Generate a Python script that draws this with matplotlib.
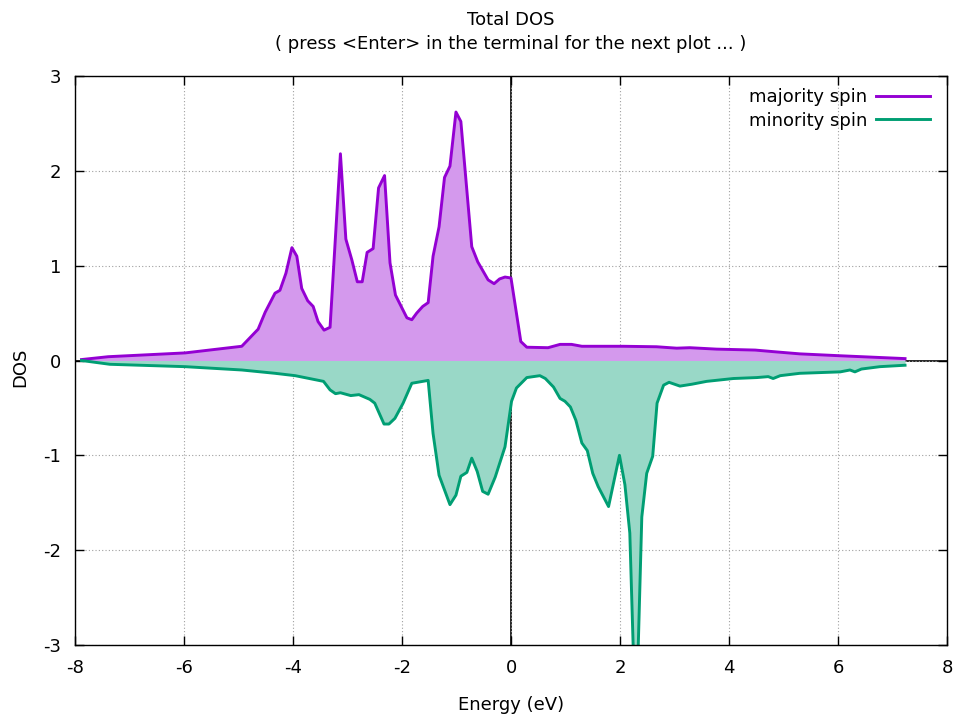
import matplotlib
matplotlib.use("Agg")
import matplotlib.pyplot as plt
import numpy as np

plt.rcParams["axes.unicode_minus"] = False
plt.rcParams["font.family"] = ["DejaVu Sans"]

energy_up = [-7.88, -7.39, -5.98, -4.94, -4.64, -4.51, -4.33, -4.24, -4.13, -4.02, -3.93, -3.84,
             -3.73, -3.63, -3.54, -3.43, -3.32, -3.13, -3.03, -2.92, -2.82, -2.73, -2.64, -2.53,
             -2.43, -2.32, -2.22, -2.12, -1.91, -1.82, -1.73, -1.62, -1.52, -1.43, -1.32, -1.22,
             -1.12, -1.01, -0.92, -0.72, -0.61, -0.51, -0.42, -0.31, -0.21, -0.11, 0.0, 0.18,
             0.29, 0.68, 0.90, 1.11, 1.30, 2.06, 2.67, 3.04, 3.28, 3.77, 4.48, 4.88, 5.30, 6.04, 7.23]
dos_up = [0.01, 0.04, 0.08, 0.15, 0.33, 0.51, 0.71, 0.74, 0.92, 1.19, 1.10, 0.76,
          0.63, 0.57, 0.41, 0.32, 0.35, 2.18, 1.28, 1.06, 0.83, 0.83, 1.14, 1.18,
          1.82, 1.95, 1.03, 0.69, 0.45, 0.43, 0.50, 0.57, 0.61, 1.10, 1.41, 1.93,
          2.05, 2.62, 2.52, 1.20, 1.04, 0.94, 0.85, 0.81, 0.86, 0.88, 0.87, 0.20,
          0.14, 0.135, 0.17, 0.17, 0.15, 0.15, 0.145, 0.13, 0.135, 0.12, 0.11, 0.09, 0.07, 0.05, 0.02]

energy_dn = [-7.88, -7.36, -5.98, -4.94, -4.33, -3.96, -3.44, -3.32, -3.22, -3.13, -2.94, -2.79,
             -2.59, -2.50, -2.33, -2.24, -2.13, -1.98, -1.82, -1.52, -1.43, -1.32, -1.12, -1.01,
             -0.92, -0.81, -0.72, -0.62, -0.52, -0.42, -0.29, -0.11, 0.01, 0.10, 0.29, 0.53,
             0.63, 0.78, 0.90, 0.99, 1.09, 1.19, 1.30, 1.40, 1.50, 1.60, 1.79, 1.99,
             2.09, 2.18, 2.29, 2.40, 2.49, 2.60, 2.68, 2.80, 2.90, 3.10, 3.32, 3.59,
             4.08, 4.51, 4.72, 4.81, 4.94, 5.30, 6.04, 6.22, 6.31, 6.43, 6.77, 7.23]
dos_dn = [0.0, -0.04, -0.065, -0.10, -0.135, -0.16, -0.22, -0.31, -0.35, -0.34, -0.37, -0.36,
          -0.41, -0.45, -0.67, -0.67, -0.61, -0.45, -0.24, -0.21, -0.77, -1.21, -1.52, -1.42,
          -1.22, -1.18, -1.03, -1.17, -1.38, -1.41, -1.23, -0.91, -0.43, -0.29, -0.18, -0.16,
          -0.19, -0.28, -0.40, -0.43, -0.49, -0.63, -0.87, -0.95, -1.19, -1.33, -1.54, -1.00,
          -1.31, -1.82, -3.95, -1.65, -1.19, -1.01, -0.45, -0.26, -0.23, -0.27, -0.25, -0.22,
          -0.19, -0.18, -0.17, -0.19, -0.16, -0.135, -0.12, -0.10, -0.12, -0.09, -0.065, -0.05]

x_ticks = [-8, -6, -4, -2, 0, 2, 4, 6, 8]
y_ticks = [-3, -2, -1, 0, 1, 2, 3]

c_up = "#9400D3"
c_dn = "#009E73"
f_up = "#D499ED"
f_dn = "#99D8C7"

FS = 13
W, H = 955, 716
fig = plt.figure(figsize=(W / 100, H / 100), dpi=100)
ax = fig.add_axes([75 / W, 1 - 645 / H, (947 - 75) / W, (645 - 76) / H])

ax.axhline(0, color="black", lw=1.2, zorder=0.5)
ax.axvline(0, color="black", lw=1.2, zorder=0.5)

ax.fill_between(energy_up, 0, dos_up, color=f_up, lw=0, zorder=1)
ax.fill_between(energy_dn, 0, dos_dn, color=f_dn, lw=0, zorder=1)
ax.plot(energy_up, dos_up, color=c_up, lw=2.1, label="majority spin", zorder=2)
ax.plot(energy_dn, dos_dn, color=c_dn, lw=2.1, label="minority spin", zorder=2)

ax.set_xlim(-8, 8)
ax.set_ylim(-3, 3)
ax.set_xticks(x_ticks)
ax.set_yticks(y_ticks)
ax.grid(True, color="#a0a0a0", linestyle=(0, (1, 2)), lw=0.8, zorder=0)
ax.set_axisbelow(True)
ax.tick_params(direction="in", length=6.5, width=1.0, top=True, right=True, labelsize=FS, pad=10)
for s in ax.spines.values():
    s.set_linewidth(1.0)
    s.set_zorder(3)

fig.text(511 / W, 1 - 705 / H, "Energy (eV)", ha="center", va="center", fontsize=FS)
fig.text(20 / W, 1 - 367 / H, "DOS", ha="center", va="center", rotation=90, fontsize=FS)
fig.text(511 / W, 1 - 20 / H, "Total DOS", ha="center", va="center", fontsize=FS)
fig.text(511 / W, 1 - 44 / H, "( press <Enter> in the terminal for the next plot ... )",
         ha="center", va="center", fontsize=FS)

leg = ax.legend(loc="upper right", bbox_to_anchor=(1.0, 1.0 + 5 / 569), frameon=False,
                markerfirst=False, fontsize=FS, handlelength=3.0, borderaxespad=0.55,
                borderpad=0.4, labelspacing=0.3, handletextpad=0.45)
fig.savefig("out.png", dpi=100)
